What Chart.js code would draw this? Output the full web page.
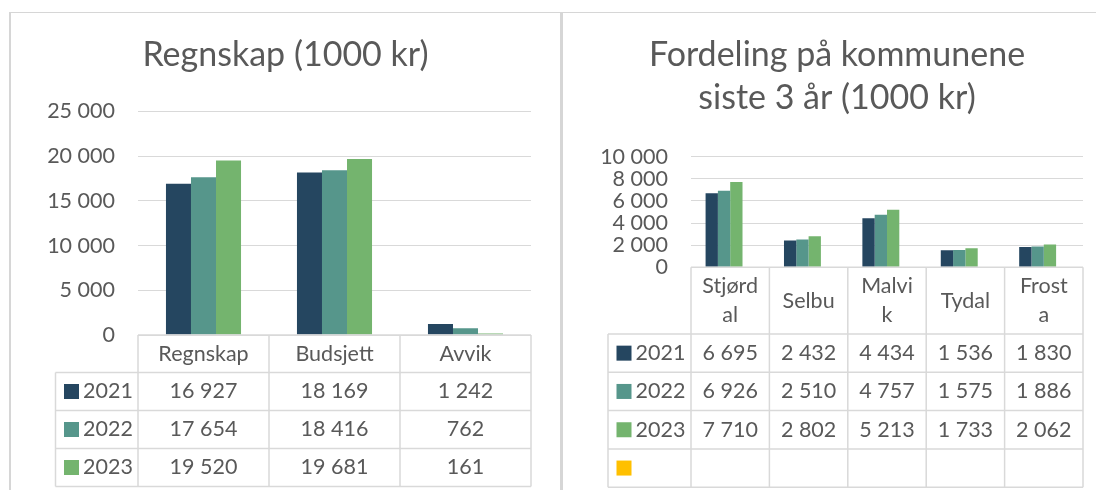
<!DOCTYPE html>
<html><head><meta charset="utf-8">
<script src="https://cdn.jsdelivr.net/npm/chart.js@4/dist/chart.umd.min.js"></script>
<style>
html,body{margin:0;padding:0;background:#fff;width:1096px;height:490px;overflow:hidden;position:relative}
.panel{position:absolute;border:1px solid #d6d6d6;box-sizing:border-box}
canvas{position:absolute;top:0}
</style></head><body>
<div class="panel" style="left:9px;top:12px;width:552px;height:520px;border-width:1.5px 1.5px 0 2px"></div>
<div class="panel" style="left:561px;top:12px;width:560px;height:520px;border-width:1.5px 0 0 2px"></div>
<canvas id="c1" width="561" height="490" style="left:0"></canvas>
<canvas id="c2" width="535" height="490" style="left:561px"></canvas>
<script>
// ---- data ----
const seriesNames = ['2021', '2022', '2023'];
const seriesColors = ['#254660', '#56968B', '#74B46E', '#FFC000'];

const titleLeft = 'Regnskap (1000 kr)';
const categoriesLeft = ['Regnskap', 'Budsjett', 'Avvik'];
const left2021 = [16927, 18169, 1242];
const left2022 = [17654, 18416, 762];
const left2023 = [19520, 19681, 161];
const yTicksLeft = [0, 5000, 10000, 15000, 20000, 25000];

const titleRight = ['Fordeling på kommunene', 'siste 3 år (1000 kr)'];
const categoriesRight = [['Stjørd', 'al'], 'Selbu', ['Malvi', 'k'], 'Tydal', ['Frost', 'a']];
const right2021 = [6695, 2432, 4434, 1536, 1830];
const right2022 = [6926, 2510, 4757, 1575, 1886];
const right2023 = [7710, 2802, 5213, 1733, 2062];
const rightEmpty = [null, null, null, null, null];
const yTicksRight = [0, 2000, 4000, 6000, 8000, 10000];

// ---- helpers ----
const FONT = 'Lato, "Open Sans", sans-serif';
const TXT = '#595959';
const GRID = '#d9d9d9';
const TSIZE = 21.5;
const fmt = v => (v === null || v === undefined) ? '' : String(v).replace(/\B(?=(\d{3})+(?!\d))/g, ' ');

const tablePlugin = {
  id: 'dataTable',
  afterDraw(chart, args, o) {
    const ctx = chart.ctx, ca = chart.chartArea, x = chart.scales.x;
    const labels = chart.data.labels, ds = chart.data.datasets;
    const n = labels.length, colW = (ca.right - ca.left) / n;
    const top = ca.bottom, rowsTop = top + o.headerH;
    const bottom = rowsTop + o.rowH * ds.length;
    ctx.save();
    ctx.strokeStyle = GRID; ctx.lineWidth = 1.5;
    const line = (x1, y1, x2, y2) => { ctx.beginPath(); ctx.moveTo(x1, y1); ctx.lineTo(x2, y2); ctx.stroke(); };
    line(ca.left, top, ca.right, top);
    for (let r = 0; r <= ds.length; r++) line(o.legendLeft, rowsTop + r * o.rowH, ca.right, rowsTop + r * o.rowH);
    for (let c = 0; c <= n; c++) line(ca.left + c * colW, top, ca.left + c * colW, bottom);
    line(o.legendLeft, rowsTop, o.legendLeft, bottom);
    ctx.font = TSIZE + 'px ' + FONT; ctx.fillStyle = TXT; ctx.textBaseline = 'middle'; ctx.textAlign = 'center';
    labels.forEach((lab, i) => {
      const lines = Array.isArray(lab) ? lab : [lab];
      const cx = x.getPixelForValue(i), cy = top + o.headerH / 2;
      lines.forEach((t, k) => ctx.fillText(t, cx, cy + (k - (lines.length - 1) / 2) * o.headerLineH));
    });
    ds.forEach((d, r) => {
      const cy = rowsTop + r * o.rowH + o.rowH / 2;
      ctx.fillStyle = d.backgroundColor;
      ctx.fillRect(o.legendLeft + 8.5, cy - 7.5, 15, 15);
      ctx.fillStyle = TXT; ctx.textAlign = 'left';
      ctx.fillText(d.label, o.legendLeft + 27.5, cy);
      ctx.textAlign = 'center';
      d.data.forEach((v, i) => ctx.fillText(fmt(v), x.getPixelForValue(i), cy));
    });
    ctx.restore();
  }
};

function makeChart(id, cfg) {
  return new Chart(document.getElementById(id), {
    type: 'bar',
    data: {
      labels: cfg.labels,
      datasets: cfg.series.map((s, i) => ({
        label: cfg.names[i], data: s, backgroundColor: seriesColors[i],
        borderWidth: 0, categoryPercentage: cfg.catPct, barPercentage: 1
      }))
    },
    plugins: [tablePlugin],
    options: {
      responsive: false, animation: false,
      layout: { padding: cfg.padding },
      plugins: {
        legend: { display: false }, tooltip: { enabled: false },
        title: {
          display: true, text: cfg.title, color: TXT,
          font: { family: FONT, size: 34, weight: 'normal', lineHeight: cfg.titleLH },
          padding: cfg.titlePad
        },
        dataTable: cfg.table
      },
      scales: {
        x: { display: false },
        y: {
          min: 0, max: cfg.yTicks[cfg.yTicks.length - 1],
          afterBuildTicks: s => { s.ticks = cfg.yTicks.map(v => ({ value: v })); },
          afterFit: s => { s.width = cfg.axisW; },
          border: { display: false },
          grid: { color: GRID, lineWidth: 1, drawTicks: false },
          ticks: { autoSkip: false, padding: 23, color: TXT, font: { family: FONT, size: TSIZE, lineHeight: 1 }, callback: v => fmt(v) }
        }
      }
    }
  });
}

makeChart('c1', {
  labels: categoriesLeft, names: seriesNames,
  series: [left2021, left2022, left2023],
  title: titleLeft, titleLH: 1.2, titlePad: { top: 35, bottom: 35.7 },
  yTicks: yTicksLeft, axisW: 98, catPct: 0.573,
  padding: { left: 40, right: 30, top: 0, bottom: 155 },
  table: { headerH: 37.5, rowH: 38, headerLineH: 29, legendLeft: 55.5 }
});

makeChart('c2', {
  labels: categoriesRight, names: seriesNames.concat(['']),
  series: [right2021, right2022, right2023, rightEmpty],
  title: titleRight, titleLH: 1.265, titlePad: { top: 33.6, bottom: 37.1 },
  yTicks: yTicksRight, axisW: 100, catPct: 0.628,
  padding: { left: 30, right: 13, top: 0, bottom: 222.7 },
  table: { headerH: 66.7, rowH: 38.3, headerLineH: 29.5, legendLeft: 47 }
});
</script>
</body></html>
